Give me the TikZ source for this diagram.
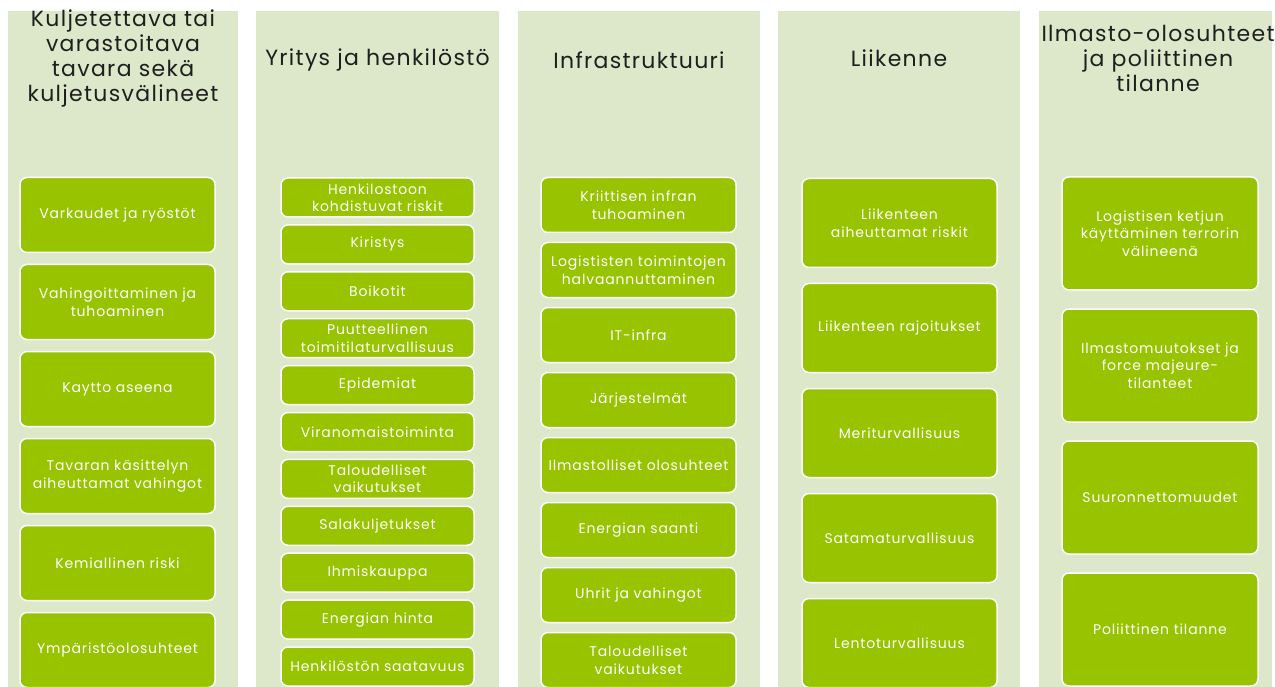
\documentclass[tikz,border=0pt]{standalone}
\usepackage{fontspec}
\setmainfont{Poppins}
\newfontfamily\widefont[LetterSpace = 6]{Poppins}

\definecolor{panel}{RGB}{221, 232, 203}
\definecolor{leaf}{RGB}{151, 195, 0}
\definecolor{heading}{RGB}{30, 30, 30}

\begin{document}
\begin{tikzpicture}[x = 1pt, y = -1pt,
	head/.style = {text = heading, align = center, font = \widefont\fontsize{22}{25}\selectfont},
	risk/.style = {draw = white, line width = 1.5pt, fill = leaf, rounded corners = 7pt, text = white, align = center, inner sep = 2pt, font = \widefont\fontsize{14}{17.5}\selectfont},
	riskA/.style = {risk, minimum width = 195pt, minimum height = 75pt},
	riskB/.style = {risk, minimum width = 193pt, minimum height = 39pt},
	riskC/.style = {risk, minimum width = 195pt, minimum height = 55pt},
	riskD/.style = {risk, minimum width = 195pt, minimum height = 89pt},
	riskE/.style = {risk, minimum width = 196pt, minimum height = 113pt}]

	% Page

	\useasboundingbox [fill = white] (0, 0) rectangle (1275, 687);
	\clip (0, 0) rectangle (1275, 687);

	% Panels

	\fill [panel] (8, 11) rectangle (238, 700);
	\fill [panel] (256, 11) rectangle (499, 700);
	\fill [panel] (518, 11) rectangle (760, 700);
	\fill [panel] (778, 11) rectangle (1020, 700);
	\fill [panel] (1039, 11) rectangle (1272, 700);

	% Headers

	\node [head] (tavara) at (123, 58) {Kuljetettava tai\\varastoitava\\tavara sekä\\kuljetusvälineet};
	\node [head] (yritys) at (377.5, 60) {Yritys ja henkilöstö};
	\node [head] (infra) at (639, 60) {Infrastruktuuri};
	\node [head] (liikenne) at (899, 58) {Liikenne};
	\node [head] (ilmasto) at (1158, 58) {Ilmasto-olosuhteet\\ja poliittinen\\tilanne};

	% Column 1

	\node [riskA] (kul1) at (117.5, 215) {Varkaudet ja ryöstöt};
	\node [riskA] (kul2) at (117.5, 302) {Vahingoittaminen ja\\tuhoaminen};
	\node [riskA] (kul3) at (117.5, 389) {Kaytto aseena};
	\node [riskA] (kul4) at (117.5, 476) {Tavaran käsittelyn\\aiheuttamat vahingot};
	\node [riskA] (kul5) at (117.5, 563) {Kemiallinen riski};
	\node [riskA] (kul6) at (117.5, 650) {Ympäristöolosuhteet};

	% Column 2

	\node [riskB] (yri1) at (377.5, 197.5) {Henkilostoon\\kohdistuvat riskit};
	\node [riskB] (yri2) at (377.5, 244.4) {Kiristys};
	\node [riskB] (yri3) at (377.5, 291.3) {Boikotit};
	\node [riskB] (yri4) at (377.5, 338.2) {Puutteellinen\\toimitilaturvallisuus};
	\node [riskB] (yri5) at (377.5, 385.1) {Epidemiat};
	\node [riskB] (yri6) at (377.5, 432) {Viranomaistoiminta};
	\node [riskB] (yri7) at (377.5, 478.9) {Taloudelliset\\vaikutukset};
	\node [riskB] (yri8) at (377.5, 525.8) {Salakuljetukset};
	\node [riskB] (yri9) at (377.5, 572.7) {Ihmiskauppa};
	\node [riskB] (yri10) at (377.5, 619.6) {Energian hinta};
	\node [riskB] (yri11) at (377.5, 666.5) {Henkilöstön saatavuus};

	% Column 3

	\node [riskC] (inf1) at (638.5, 205) {Kriittisen infran\\tuhoaminen};
	\node [riskC] (inf2) at (638.5, 270) {Logististen toimintojen\\halvaannuttaminen};
	\node [riskC] (inf3) at (638.5, 335) {IT-infra};
	\node [riskC] (inf4) at (638.5, 400) {Järjestelmät};
	\node [riskC] (inf5) at (638.5, 465) {Ilmastolliset olosuhteet};
	\node [riskC] (inf6) at (638.5, 530) {Energian saanti};
	\node [riskC] (inf7) at (638.5, 595) {Uhrit ja vahingot};
	\node [riskC] (inf8) at (638.5, 660) {Taloudelliset\\vaikutukset};

	% Column 4

	\node [riskD] (lii1) at (899.5, 223) {Liikenteen\\aiheuttamat riskit};
	\node [riskD] (lii2) at (899.5, 328) {Liikenteen rajoitukset};
	\node [riskD] (lii3) at (899.5, 433) {Meriturvallisuus};
	\node [riskD] (lii4) at (899.5, 538) {Satamaturvallisuus};
	\node [riskD] (lii5) at (899.5, 643) {Lentoturvallisuus};

	% Column 5

	\node [riskE] (ilm1) at (1160, 233.5) {Logistisen ketjun\\käyttäminen terrorin\\välineenä};
	\node [riskE] (ilm2) at (1160, 365.5) {Ilmastomuutokset ja\\force majeure-\\tilanteet};
	\node [riskE] (ilm3) at (1160, 497.5) {Suuronnettomuudet};
	\node [riskE] (ilm4) at (1160, 629.5) {Poliittinen tilanne};

\end{tikzpicture}
\end{document}
